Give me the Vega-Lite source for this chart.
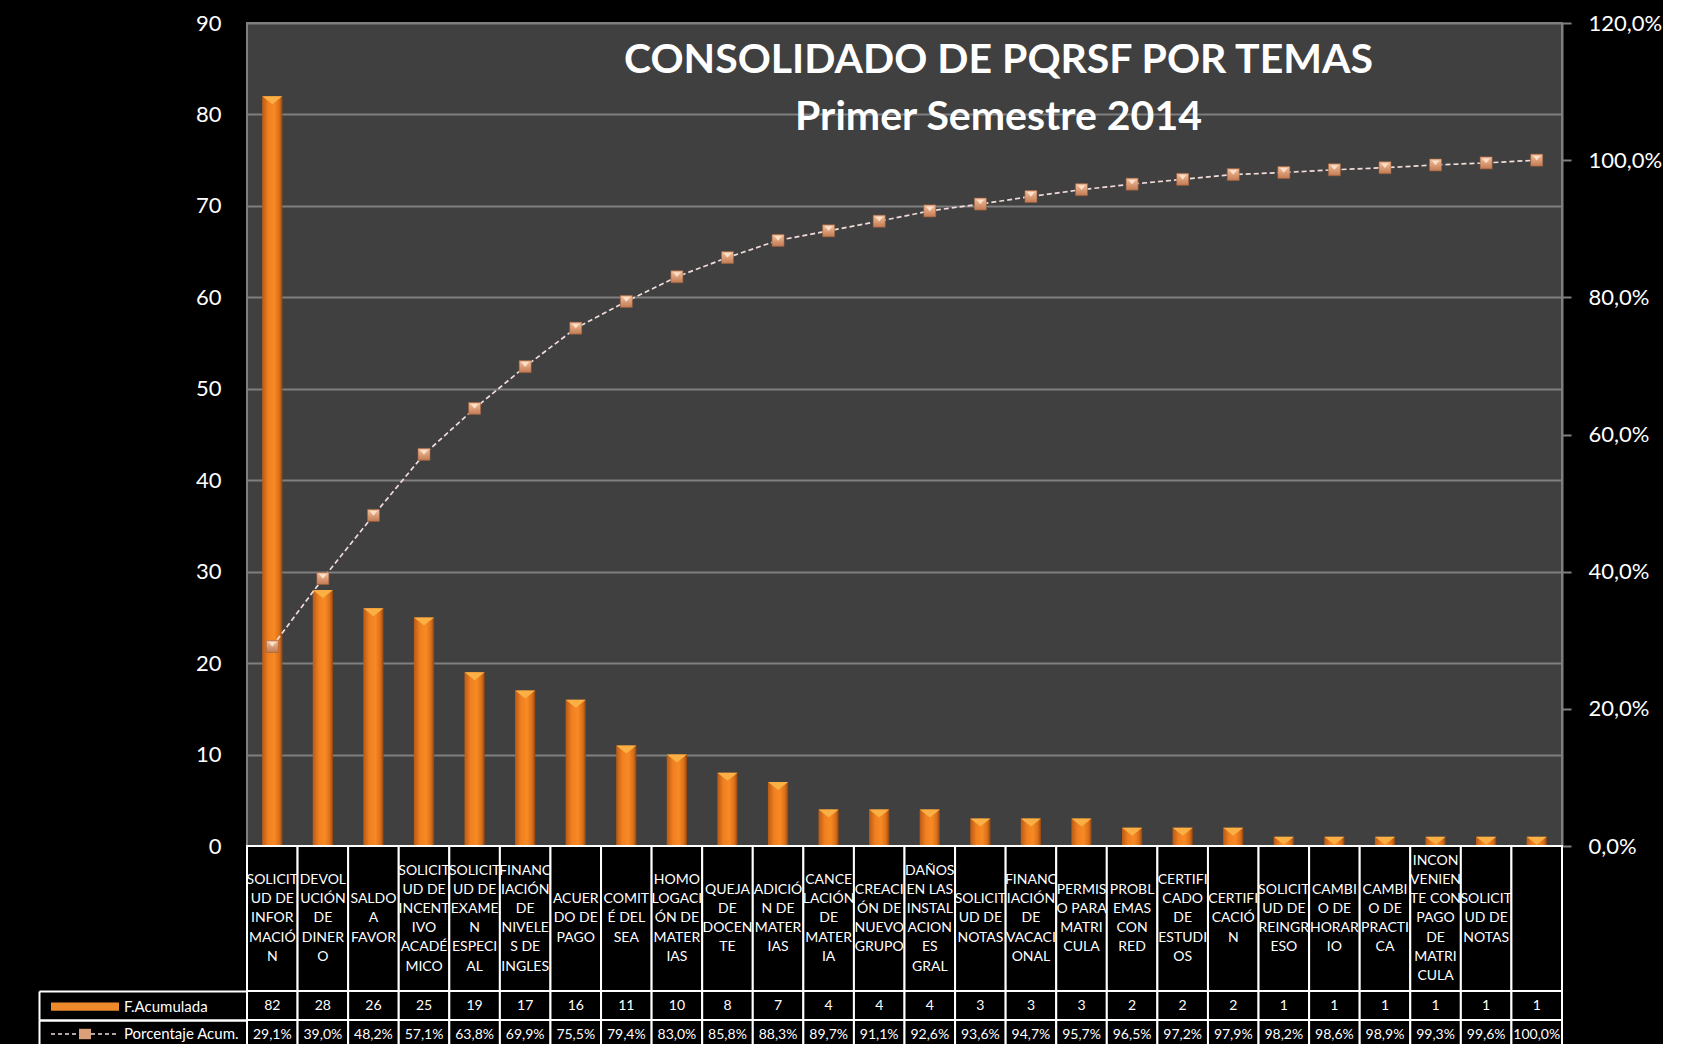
{
  "$schema": "https://vega.github.io/schema/vega-lite/v6.json",
  "background": "black",
  "padding": {"left": 38, "top": 11, "right": 0, "bottom": 0},
  "config": {
    "font": "Lato",
    "locale": {"number": {"decimal": ",", "thousands": ".", "grouping": [3], "currency": ["$", ""]}},
    "view": {"stroke": null}
  },
  "datasets": {
    "pqrsf": [
      {"n": 1, "tema": ["SOLICIT", "UD DE", "INFOR", "MACIÓ", "N"], "frecuencia": 82, "porcentaje": 0.291},
      {"n": 2, "tema": ["DEVOL", "UCIÓN", "DE", "DINER", "O"], "frecuencia": 28, "porcentaje": 0.390},
      {"n": 3, "tema": ["SALDO", "A", "FAVOR"], "frecuencia": 26, "porcentaje": 0.482},
      {"n": 4, "tema": ["SOLICIT", "UD DE", "INCENT", "IVO", "ACADÉ", "MICO"], "frecuencia": 25, "porcentaje": 0.571},
      {"n": 5, "tema": ["SOLICIT", "UD DE", "EXAME", "N", "ESPECI", "AL"], "frecuencia": 19, "porcentaje": 0.638},
      {"n": 6, "tema": ["FINANC", "IACIÓN", "DE", "NIVELE", "S DE", "INGLES"], "frecuencia": 17, "porcentaje": 0.699},
      {"n": 7, "tema": ["ACUER", "DO DE", "PAGO"], "frecuencia": 16, "porcentaje": 0.755},
      {"n": 8, "tema": ["COMIT", "É DEL", "SEA"], "frecuencia": 11, "porcentaje": 0.794},
      {"n": 9, "tema": ["HOMO", "LOGACI", "ÓN DE", "MATER", "IAS"], "frecuencia": 10, "porcentaje": 0.830},
      {"n": 10, "tema": ["QUEJA", "DE", "DOCEN", "TE"], "frecuencia": 8, "porcentaje": 0.858},
      {"n": 11, "tema": ["ADICIÓ", "N DE", "MATER", "IAS"], "frecuencia": 7, "porcentaje": 0.883},
      {"n": 12, "tema": ["CANCE", "LACIÓN", "DE", "MATER", "IA"], "frecuencia": 4, "porcentaje": 0.897},
      {"n": 13, "tema": ["CREACI", "ÓN DE", "NUEVO", "GRUPO"], "frecuencia": 4, "porcentaje": 0.911},
      {"n": 14, "tema": ["DAÑOS", "EN LAS", "INSTAL", "ACION", "ES", "GRAL"], "frecuencia": 4, "porcentaje": 0.926},
      {"n": 15, "tema": ["SOLICIT", "UD DE", "NOTAS"], "frecuencia": 3, "porcentaje": 0.936},
      {"n": 16, "tema": ["FINANC", "IACIÓN", "DE", "VACACI", "ONAL"], "frecuencia": 3, "porcentaje": 0.947},
      {"n": 17, "tema": ["PERMIS", "O PARA", "MATRI", "CULA"], "frecuencia": 3, "porcentaje": 0.957},
      {"n": 18, "tema": ["PROBL", "EMAS", "CON", "RED"], "frecuencia": 2, "porcentaje": 0.965},
      {"n": 19, "tema": ["CERTIFI", "CADO", "DE", "ESTUDI", "OS"], "frecuencia": 2, "porcentaje": 0.972},
      {"n": 20, "tema": ["CERTIFI", "CACIÓ", "N"], "frecuencia": 2, "porcentaje": 0.979},
      {"n": 21, "tema": ["SOLICIT", "UD DE", "REINGR", "ESO"], "frecuencia": 1, "porcentaje": 0.982},
      {"n": 22, "tema": ["CAMBI", "O DE", "HORAR", "IO"], "frecuencia": 1, "porcentaje": 0.986},
      {"n": 23, "tema": ["CAMBI", "O DE", "PRACTI", "CA"], "frecuencia": 1, "porcentaje": 0.989},
      {"n": 24, "tema": ["INCON", "VENIEN", "TE CON", "PAGO", "DE", "MATRI", "CULA"], "frecuencia": 1, "porcentaje": 0.993},
      {"n": 25, "tema": ["SOLICIT", "UD DE", "NOTAS"], "frecuencia": 1, "porcentaje": 0.996},
      {"n": 26, "tema": [""], "frecuencia": 1, "porcentaje": 1.000}
    ]
  },
  "bounds": "flush",
  "spacing": 0,
  "resolve": {
    "scale": {"shape": "independent", "strokeDash": "independent"},
    "legend": {"shape": "independent", "strokeDash": "independent"}
  },
  "vconcat": [
    {
      "width": 1315,
      "height": 823,
      "data": {"name": "pqrsf"},
      "view": {"fill": "#404040", "stroke": "#7f7f7f", "strokeWidth": 2},
      "title": {
        "text": ["CONSOLIDADO DE PQRSF POR TEMAS", "Primer Semestre 2014"],
        "color": "white",
        "font": "Lato",
        "fontSize": 41,
        "fontWeight": "bold",
        "anchor": "middle",
        "frame": "group",
        "lineHeight": 57,
        "offset": -127,
        "dx": 94
      },
      "encoding": {
        "x": {"field": "n", "type": "ordinal", "scale": {"paddingInner": 0.6, "paddingOuter": 0.3}, "axis": null}
      },
      "layer": [
        {
          "encoding": {
            "y": {
              "field": "frecuencia", "type": "quantitative",
              "scale": {"domain": [0, 90], "nice": false},
              "axis": {
                "orient": "left", "title": null, "values": [0, 10, 20, 30, 40, 50, 60, 70, 80, 90],
                "grid": true, "gridColor": "#7f7f7f", "gridWidth": 2,
                "ticks": false, "domain": false,
                "labelColor": "white", "labelFont": "Lato", "labelFontSize": 22, "labelPadding": 26
              }
            }
          },
          "layer": [
            {
              "mark": {
                "type": "bar",
                "color": {
                  "gradient": "linear", "x1": 0, "y1": 0, "x2": 1, "y2": 0,
                  "stops": [
                    {"offset": 0, "color": "#B85A16"},
                    {"offset": 0.3, "color": "#F08020"},
                    {"offset": 0.6, "color": "#F88A24"},
                    {"offset": 0.85, "color": "#D86E1A"},
                    {"offset": 1, "color": "#8E4510"}
                  ]
                }
              }
            },
            {
              "mark": {"type": "point", "shape": "M-1,0L1,0L0,0.8Z", "size": 400, "filled": true, "color": "#FAB045", "opacity": 1}
            }
          ]
        },
        {
          "encoding": {
            "y": {
              "field": "porcentaje", "type": "quantitative",
              "scale": {"domain": [0, 1.2], "nice": false},
              "axis": {
                "orient": "right", "title": null, "values": [0, 0.2, 0.4, 0.6, 0.8, 1.0, 1.2],
                "format": ".1%", "grid": false,
                "ticks": true, "tickSize": 9, "tickColor": "#7f7f7f", "tickWidth": 2,
                "domain": true, "domainColor": "#7f7f7f", "domainWidth": 2,
                "labelColor": "white", "labelFont": "Lato", "labelFontSize": 22, "labelPadding": 17
              }
            }
          },
          "layer": [
            {
              "mark": {"type": "line", "stroke": "#F2DCDB", "strokeWidth": 1.7, "strokeDash": [5, 3]}
            },
            {
              "mark": {
                "type": "point", "shape": "square", "size": 144, "filled": true, "opacity": 1,
                "fill": {
                  "gradient": "linear", "x1": 0, "y1": 0, "x2": 0, "y2": 1,
                  "stops": [{"offset": 0, "color": "#F4C09C"}, {"offset": 1, "color": "#C27B52"}]
                },
                "stroke": "#9C5E3C", "strokeWidth": 0.6
              }
            },
            {
              "mark": {"type": "point", "shape": "M-0.65,-0.75L0.65,-0.75L0,0.05Z", "size": 144, "filled": true, "color": "#FCE4CF", "opacity": 0.9}
            }
          ]
        }
      ],
      "resolve": {"scale": {"y": "independent"}}
    },
    {
      "width": 1315,
      "height": 145,
      "data": {"name": "pqrsf"},
      "encoding": {
        "x": {"field": "n", "type": "ordinal", "scale": {"padding": 0}, "axis": null}
      },
      "layer": [
        {"mark": {"type": "rect", "fill": "black", "stroke": "white", "strokeWidth": 2}},
        {
          "mark": {
            "type": "text", "color": "white", "font": "Lato", "fontSize": 14, "lineHeight": 19.2,
            "baseline": "middle", "align": "center",
            "dy": {"expr": "-(length(datum.tema) - 1) * 9.6"}
          },
          "encoding": {"text": {"field": "tema"}}
        }
      ]
    },
    {
      "width": 1315,
      "height": 29,
      "data": {"name": "pqrsf"},
      "encoding": {
        "x": {"field": "n", "type": "ordinal", "scale": {"padding": 0}, "axis": null}
      },
      "layer": [
        {
          "mark": {"type": "rect", "fill": "black", "stroke": "white", "strokeWidth": 2},
          "encoding": {
            "y": {"datum": "F.Acumulada", "type": "nominal", "scale": {"padding": 0},
              "axis": {"orient": "left", "title": null, "labels": false, "domain": false, "ticks": true, "tickBand": "extent", "tickSize": 208, "tickColor": "white", "tickWidth": 2}}
          }
        },
        {
          "mark": {"type": "text", "color": "white", "font": "Lato", "fontSize": 14, "baseline": "middle"},
          "encoding": {
            "y": {"datum": "F.Acumulada", "type": "nominal", "scale": {"padding": 0},
              "axis": {"orient": "left", "offset": 208, "title": null, "labels": false, "ticks": false, "domain": true, "domainColor": "white", "domainWidth": 2}},
            "text": {"field": "frecuencia", "type": "quantitative"}
          }
        },
        {
          "mark": {"type": "point", "filled": true, "size": 0, "color": "#EE8A2C"},
          "encoding": {
            "y": {"datum": "F.Acumulada", "type": "nominal", "scale": {"padding": 0}, "axis": null},
            "shape": {
              "datum": "F.Acumulada", "type": "nominal",
              "scale": {"range": ["M-4.25,-0.52H4.25V0.52H-4.25Z"]},
              "legend": {
                "orient": "none", "legendX": -171, "legendY": 6.6, "title": null, "padding": 0,
                "symbolSize": 256, "labelOffset": 30,
                "symbolFillColor": "#EE8A2C", "symbolStrokeColor": "#A8520F", "symbolStrokeWidth": 1.2, "symbolOpacity": 1,
                "labelColor": "white", "labelFont": "Lato", "labelFontSize": 15
              }
            }
          }
        }
      ],
      "resolve": {"scale": {"y": "independent"}, "axis": {"y": "independent"}}
    },
    {
      "width": 1315,
      "height": 29,
      "data": {"name": "pqrsf"},
      "encoding": {
        "x": {"field": "n", "type": "ordinal", "scale": {"padding": 0}, "axis": null}
      },
      "layer": [
        {
          "mark": {"type": "rect", "fill": "black", "stroke": "white", "strokeWidth": 2},
          "encoding": {
            "y": {"datum": "Porcentaje Acum.", "type": "nominal", "scale": {"padding": 0},
              "axis": {"orient": "left", "title": null, "labels": false, "domain": false, "ticks": true, "tickBand": "extent", "tickSize": 208, "tickColor": "white", "tickWidth": 2}}
          }
        },
        {
          "mark": {"type": "text", "color": "white", "font": "Lato", "fontSize": 14, "baseline": "middle"},
          "encoding": {
            "y": {"datum": "Porcentaje Acum.", "type": "nominal", "scale": {"padding": 0},
              "axis": {"orient": "left", "offset": 208, "title": null, "labels": false, "ticks": false, "domain": true, "domainColor": "white", "domainWidth": 2}},
            "text": {"field": "porcentaje", "type": "quantitative", "format": ".1%"}
          }
        },
        {
          "data": {"values": []},
          "mark": {"type": "line", "color": "#F2DCDB", "strokeWidth": 1.4},
          "encoding": {
            "strokeDash": {
              "datum": "linea", "type": "nominal",
              "scale": {"range": [[4, 3]]},
              "legend": {
                "orient": "none", "legendX": -171, "legendY": 5, "title": null, "padding": 0,
                "symbolType": "M-4.25,0H-0.75M0.75,0H4.25", "symbolSize": 256, "labelOffset": 30,
                "symbolStrokeColor": "#F2DCDB", "symbolStrokeWidth": 1.4,
                "labelColor": "white", "labelFont": "Lato", "labelFontSize": 15, "labelExpr": "''"
              }
            }
          }
        },
        {
          "mark": {"type": "point", "filled": true, "size": 0, "color": "#D9A07A"},
          "encoding": {
            "y": {"datum": "Porcentaje Acum.", "type": "nominal", "scale": {"padding": 0}, "axis": null},
            "shape": {
              "datum": "Porcentaje Acum.", "type": "nominal",
              "scale": {"range": ["M-0.75,-0.65H0.75V0.65H-0.75Z"]},
              "legend": {
                "orient": "none", "legendX": -171, "legendY": 5, "title": null, "padding": 0,
                "symbolSize": 256, "labelOffset": 30,
                "symbolFillColor": "#D9A07A", "symbolOpacity": 1,
                "labelColor": "white", "labelFont": "Lato", "labelFontSize": 15
              }
            }
          }
        }
      ],
      "resolve": {"scale": {"y": "independent"}, "axis": {"y": "independent"}}
    }
  ]
}
